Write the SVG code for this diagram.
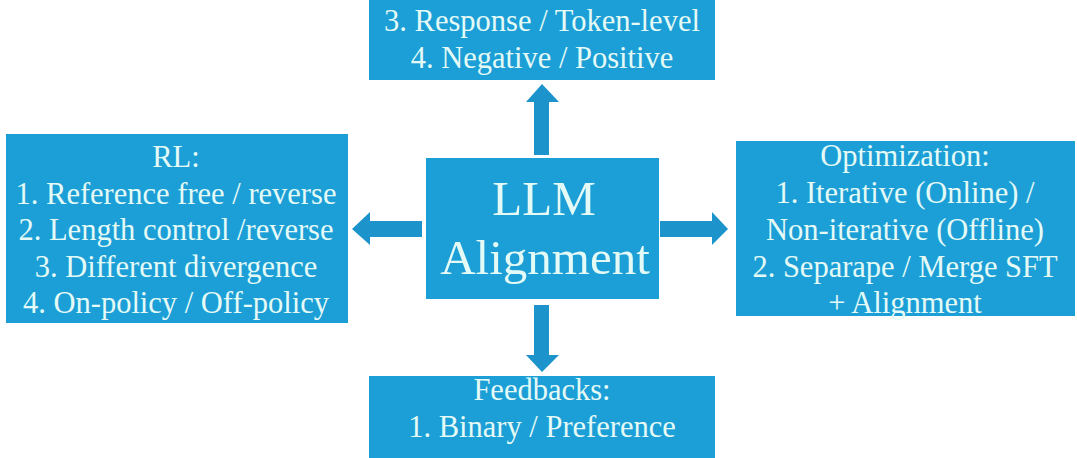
<svg xmlns="http://www.w3.org/2000/svg" width="1077" height="458" viewBox="0 0 1077 458">
<style>
.box{fill:#1c9fd6;}
.t{fill:#e4faf6;font-size:30.5px;text-anchor:middle;}
.big{font-size:49px;}
.arr{fill:#1c94cb;}
</style>
<rect width="1077" height="458" fill="#ffffff"/>
<g font-family="'Liberation Serif', 'Times New Roman', serif">
<g id="top">
<rect class="box" x="369" y="-5" width="346" height="85"/>
<text class="t" x="542" y="31">3. Response / Token-level</text>
<text class="t" x="542" y="68">4. Negative / Positive</text>
</g>
<g id="left">
<rect class="box" x="6" y="134" width="342" height="189"/>
<text class="t" x="176" y="167">RL:</text>
<text class="t" x="176" y="203.5">1. Reference free / reverse</text>
<text class="t" x="176" y="240">2. Length control /reverse</text>
<text class="t" x="176" y="276.5">3. Different divergence</text>
<text class="t" x="176" y="313">4. On-policy / Off-policy</text>
</g>
<g id="center">
<rect class="box" x="426" y="158" width="233" height="141"/>
<text class="t big" x="544" y="215">LLM</text>
<text class="t big" x="545" y="274">Alignment</text>
</g>
<g id="right">
<rect class="box" x="736" y="141" width="339" height="175"/>
<text class="t" x="905" y="166">Optimization:</text>
<text class="t" x="905" y="203">1. Iterative (Online) /</text>
<text class="t" x="905" y="240">Non-iterative (Offline)</text>
<text class="t" x="905" y="276.5">2. Separape / Merge SFT</text>
<text class="t" x="905" y="313">+ Alignment</text>
</g>
<g id="bottom">
<rect class="box" x="369" y="376" width="346" height="87"/>
<text class="t" x="542" y="400">Feedbacks:</text>
<text class="t" x="542" y="437">1. Binary / Preference</text>
</g>
</g>
<g id="connectors">
<polygon class="arr" points="534,155 534,102 526,102 542,84 559,102 549,102 549,155"/>
<polygon class="arr" points="534,305 534,355 526,355 542,372 559,355 549,355 549,305"/>
<polygon class="arr" points="422,221 370,221 370,212 352,229 370,245 370,237 422,237"/>
<polygon class="arr" points="660,221 712,221 712,212 728,229 712,245 712,237 660,237"/>
</g>
</svg>
